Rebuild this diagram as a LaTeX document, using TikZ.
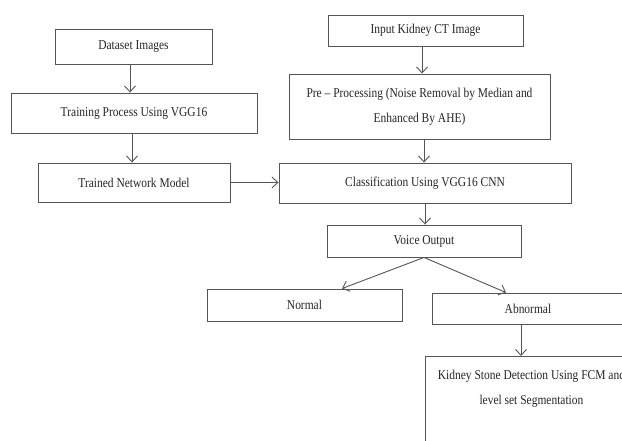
\documentclass[tikz,border=0pt]{standalone}
\usepackage{fontspec}
\setmainfont{Liberation Serif}[FakeStretch=0.85]
\usetikzlibrary{arrows.meta}
\definecolor{edge}{HTML}{555555}
\tikzset{
  box/.style={draw=edge, line width=0.9pt, fill=white, inner sep=0pt, align=center,
    font=\fontsize{13.5}{25}\selectfont, text=black!85},
  conn/.style={draw=edge, line width=0.9pt, -{Straight Barb[length=6pt,width=11pt]}},
}
\begin{document}
\begin{tikzpicture}[x=1pt,y=-1pt]
\useasboundingbox (0,0) rectangle (622,441);
\fill[white] (0,0) rectangle (622,441);
\begin{scope}
\clip (0,0) rectangle (622,441);
\node[box, minimum width=157, minimum height=35] (ds) at (133.5,46.5) {Dataset Images};
\node[box, minimum width=246, minimum height=40] (tr) at (134,113) {Training Process Using VGG16};
\node[box, minimum width=192, minimum height=39] (tn) at (134,182.5) {Trained Network Model};
\node[box, minimum width=195, minimum height=31] (in) at (425.5,30.5) {Input Kidney CT Image};
\node[box, minimum width=261, minimum height=65] (pre) at (419.5,106.5) {Pre -- Processing (Noise Removal by Median and\\Enhanced By AHE)};
\node[box, minimum width=292, minimum height=40] (cls) at (425,183) {Classification Using VGG16 CNN};
\node[box, minimum width=194, minimum height=32] (vo) at (424,241) {Voice Output};
\node[box, minimum width=195, minimum height=32] (nor) at (304.5,305) {Normal};
\node[box, minimum width=192, minimum height=31] (ab) at (528,308.5) {Abnormal};
\node[box, anchor=north west, minimum width=212] (kid) at (425,356)
  {\parbox[t][120pt]{212pt}{\centering\vspace{14pt}Kidney Stone Detection Using FCM and\\level set Segmentation}};

\draw[conn] ([xshift=-3.5]ds.south) -- ([xshift=-3.5]ds.south |- tr.north);
\draw[conn] ([xshift=-2]tr.south) -- ([xshift=-2]tr.south |- tn.north);
\draw[conn] (tn.east) -- (tn.east -| cls.west);
\draw[conn] ([xshift=-3.5]in.south) -- ([xshift=-3.5]in.south |- pre.north);
\draw[conn] ([xshift=4.5]pre.south) -- ([xshift=4.5]pre.south |- cls.north);
\draw[conn] (cls.south) -- (cls.south |- vo.north);
\coordinate (vs) at (vo.south);
\draw[conn] (vs) -- ([xshift=37.5]nor.north);
\draw[conn] (vs) -- ([xshift=-22]ab.north);
\draw[conn] ([xshift=-7]ab.south) -- ([xshift=-7]ab.south |- kid.north);
\end{scope}
\end{tikzpicture}
\end{document}
